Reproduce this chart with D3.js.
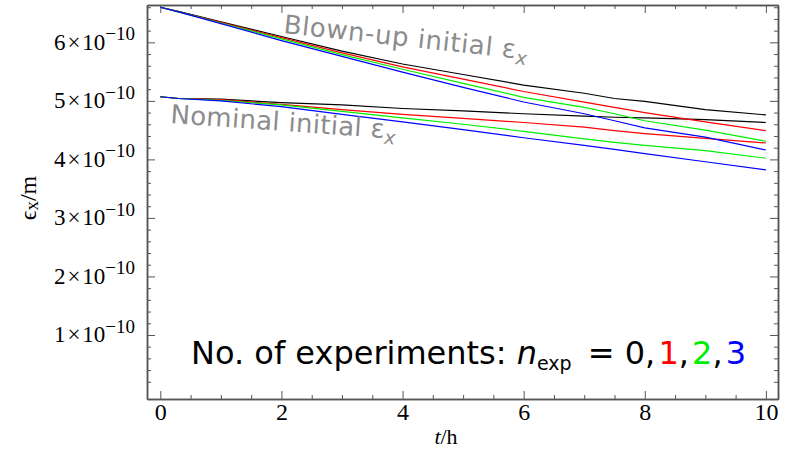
<!DOCTYPE html>
<html>
<head>
<meta charset="utf-8">
<script src="https://cdn.jsdelivr.net/npm/d3@7"></script>
<style>
body { margin: 0; background: #fff; }
</style>
</head>
<body>
<script>
// time in hours, emittance in units of 1e-10 m
var times = [0, 0.3, 1, 2, 3, 4, 5, 6, 7, 7.5, 8, 9, 10];

var blown0 = [6.60, 6.53, 6.35, 6.10, 5.85, 5.63, 5.45, 5.27, 5.13, 5.04, 4.99, 4.85, 4.76];
var blown1 = [6.60, 6.52, 6.34, 6.08, 5.82, 5.58, 5.37, 5.16, 4.98, 4.89, 4.80, 4.64, 4.49];
var blown2 = [6.60, 6.52, 6.33, 6.06, 5.79, 5.54, 5.30, 5.06, 4.89, 4.78, 4.66, 4.50, 4.31];
var blown3 = [6.60, 6.52, 6.32, 6.03, 5.76, 5.49, 5.23, 4.98, 4.78, 4.66, 4.54, 4.38, 4.16];

var nominal0 = [5.07, 5.04, 5.03, 4.97, 4.93, 4.87, 4.83, 4.78, 4.74, 4.72, 4.71, 4.68, 4.63];
var nominal1 = [5.07, 5.04, 5.02, 4.94, 4.85, 4.77, 4.70, 4.63, 4.55, 4.49, 4.44, 4.36, 4.28];
var nominal2 = [5.07, 5.04, 5.01, 4.93, 4.82, 4.71, 4.60, 4.48, 4.35, 4.29, 4.24, 4.15, 4.02];
var nominal3 = [5.07, 5.04, 5.00, 4.90, 4.77, 4.64, 4.51, 4.37, 4.24, 4.17, 4.10, 3.96, 3.82];

var xMajor = [0, 2, 4, 6, 8, 10];
var yMajor = [1, 2, 3, 4, 5, 6];

var colors = ["#000000", "#ff0000", "#00ee00", "#0000ff"];

function init() {
    var w = 790;
    var h = 456;
    var left = 147, right = 778, top = 5, bottom = 399;

    var x = d3.scaleLinear().domain([-0.22, 10.2]).range([left, right]);
    var y = d3.scaleLinear().domain([-0.094, 6.638]).range([bottom, top]);

    var xMinor = d3.range(0, 10.01, 0.5).filter(function (d) { return xMajor.indexOf(d) < 0; });
    var yMinor = d3.range(0.2, 6.61, 0.2).map(function (d) { return +d.toFixed(1); })
        .filter(function (d) { return Math.abs(d - Math.round(d)) > 0.01; });

    var svg = d3.select("body")
        .append("svg")
        .attr("width", w)
        .attr("height", h);

    var frameColor = "#555";

    function styleAxis(g) {
        g.select(".domain").attr("stroke", frameColor).attr("stroke-width", 1.5);
        g.selectAll(".tick line").attr("stroke", frameColor).attr("stroke-width", 1);
    }

    // bottom
    var xb = svg.append("g").attr("transform", "translate(0," + bottom + ")")
        .call(d3.axisBottom(x).tickValues(xMajor).tickSizeInner(-8).tickSizeOuter(0).tickPadding(4))
        .call(styleAxis);
    xb.selectAll(".tick text")
        .style("font-family", "Liberation Serif")
        .style("font-size", "24px")
        .attr("fill", "#000");
    svg.append("g").attr("transform", "translate(0," + bottom + ")")
        .call(d3.axisBottom(x).tickValues(xMinor).tickSizeInner(-4).tickSizeOuter(0).tickFormat(""))
        .call(styleAxis);

    // top
    svg.append("g").attr("transform", "translate(0," + top + ")")
        .call(d3.axisTop(x).tickValues(xMajor).tickSizeInner(-8).tickSizeOuter(0).tickFormat(""))
        .call(styleAxis);
    svg.append("g").attr("transform", "translate(0," + top + ")")
        .call(d3.axisTop(x).tickValues(xMinor).tickSizeInner(-4).tickSizeOuter(0).tickFormat(""))
        .call(styleAxis);

    // left
    var yl = svg.append("g").attr("transform", "translate(" + left + ",0)")
        .call(d3.axisLeft(y).tickValues(yMajor).tickSizeInner(-8).tickSizeOuter(0).tickPadding(12))
        .call(styleAxis);
    yl.selectAll(".tick text")
        .style("font-family", "Liberation Serif")
        .style("font-size", "23px")
        .attr("fill", "#000")
        .attr("dy", "0.3em")
        .each(function (d) {
            var t = d3.select(this);
            t.text(null);
            t.append("tspan").text(d + "\u200a\u00d7\u200a10");
            t.append("tspan").style("font-size", "19px").attr("dy", "-0.5em").text("\u221210");
        });
    svg.append("g").attr("transform", "translate(" + left + ",0)")
        .call(d3.axisLeft(y).tickValues(yMinor).tickSizeInner(-4).tickSizeOuter(0).tickFormat(""))
        .call(styleAxis);

    // right
    svg.append("g").attr("transform", "translate(" + right + ",0)")
        .call(d3.axisRight(y).tickValues(yMajor).tickSizeInner(-8).tickSizeOuter(0).tickFormat(""))
        .call(styleAxis);
    svg.append("g").attr("transform", "translate(" + right + ",0)")
        .call(d3.axisRight(y).tickValues(yMinor).tickSizeInner(-4).tickSizeOuter(0).tickFormat(""))
        .call(styleAxis);

    // lines
    var line = d3.line()
        .x(function (d, i) { return x(times[i]); })
        .y(function (d) { return y(d); });

    var series = [
        { v: nominal0, c: 0 }, { v: nominal1, c: 1 }, { v: nominal2, c: 2 }, { v: nominal3, c: 3 },
        { v: blown0, c: 0 }, { v: blown1, c: 1 }, { v: blown2, c: 2 }, { v: blown3, c: 3 }
    ];

    svg.selectAll("path.series")
        .data(series)
        .enter()
        .append("path")
        .attr("class", "series")
        .attr("fill", "none")
        .attr("stroke", function (d) { return colors[d.c]; })
        .attr("stroke-width", 1.2)
        .attr("d", function (d) { return line(d.v); });

    // annotations
    var gray = "#8c8c8c";
    var blownLabel = svg.append("text")
        .attr("transform", "translate(283,33) rotate(6.2)")
        .style("font-family", "DejaVu Sans")
        .style("font-size", "26px")
        .style("letter-spacing", "0.6px")
        .attr("fill", gray);
    blownLabel.append("tspan").text("Blown-up initial \u03b5");
    blownLabel.append("tspan").style("font-size", "19px").attr("dy", "0.3em").attr("font-style", "italic").text("x");

    var nomLabel = svg.append("text")
        .attr("transform", "translate(170,123) rotate(4)")
        .style("font-family", "DejaVu Sans")
        .style("font-size", "26px")
        .style("letter-spacing", "0.3px")
        .attr("fill", gray);
    nomLabel.append("tspan").text("Nominal initial \u03b5");
    nomLabel.append("tspan").style("font-size", "19px").attr("dy", "0.3em").attr("font-style", "italic").text("x");

    var legend = svg.append("text")
        .attr("x", 191)
        .attr("y", 364)
        .style("font-family", "DejaVu Sans")
        .style("font-size", "32px")
        .attr("fill", "#000");
    legend.append("tspan").text("No. of experiments: ");
    legend.append("tspan").attr("font-style", "italic").text("n");
    legend.append("tspan").style("font-size", "19px").attr("dy", "0.3em").text("exp");
    legend.append("tspan").attr("dy", "-0.18em").text("\u2002= 0,\u200a");
    legend.append("tspan").attr("fill", colors[1]).text("1");
    legend.append("tspan").text(",\u200a");
    legend.append("tspan").attr("fill", colors[2]).text("2");
    legend.append("tspan").text(",\u200a");
    legend.append("tspan").attr("fill", colors[3]).text("3");

    // axis titles
    var xt = svg.append("text")
        .attr("x", 446)
        .attr("y", 444)
        .attr("text-anchor", "middle")
        .style("font-family", "Liberation Serif")
        .style("font-size", "22px");
    xt.append("tspan").attr("font-style", "italic").text("t");
    xt.append("tspan").text("/h");

    var yt = svg.append("text")
        .attr("transform", "translate(36,198) rotate(-90)")
        .attr("text-anchor", "middle")
        .style("font-family", "Liberation Serif")
        .style("font-size", "24px");
    yt.append("tspan").text("\u03f5");
    yt.append("tspan").style("font-size", "19px").attr("dy", "0.1em").text("x");
    yt.append("tspan").attr("dy", "-0.1em").text("/m");
}

window.onload = init;
</script>
</body>
</html>
